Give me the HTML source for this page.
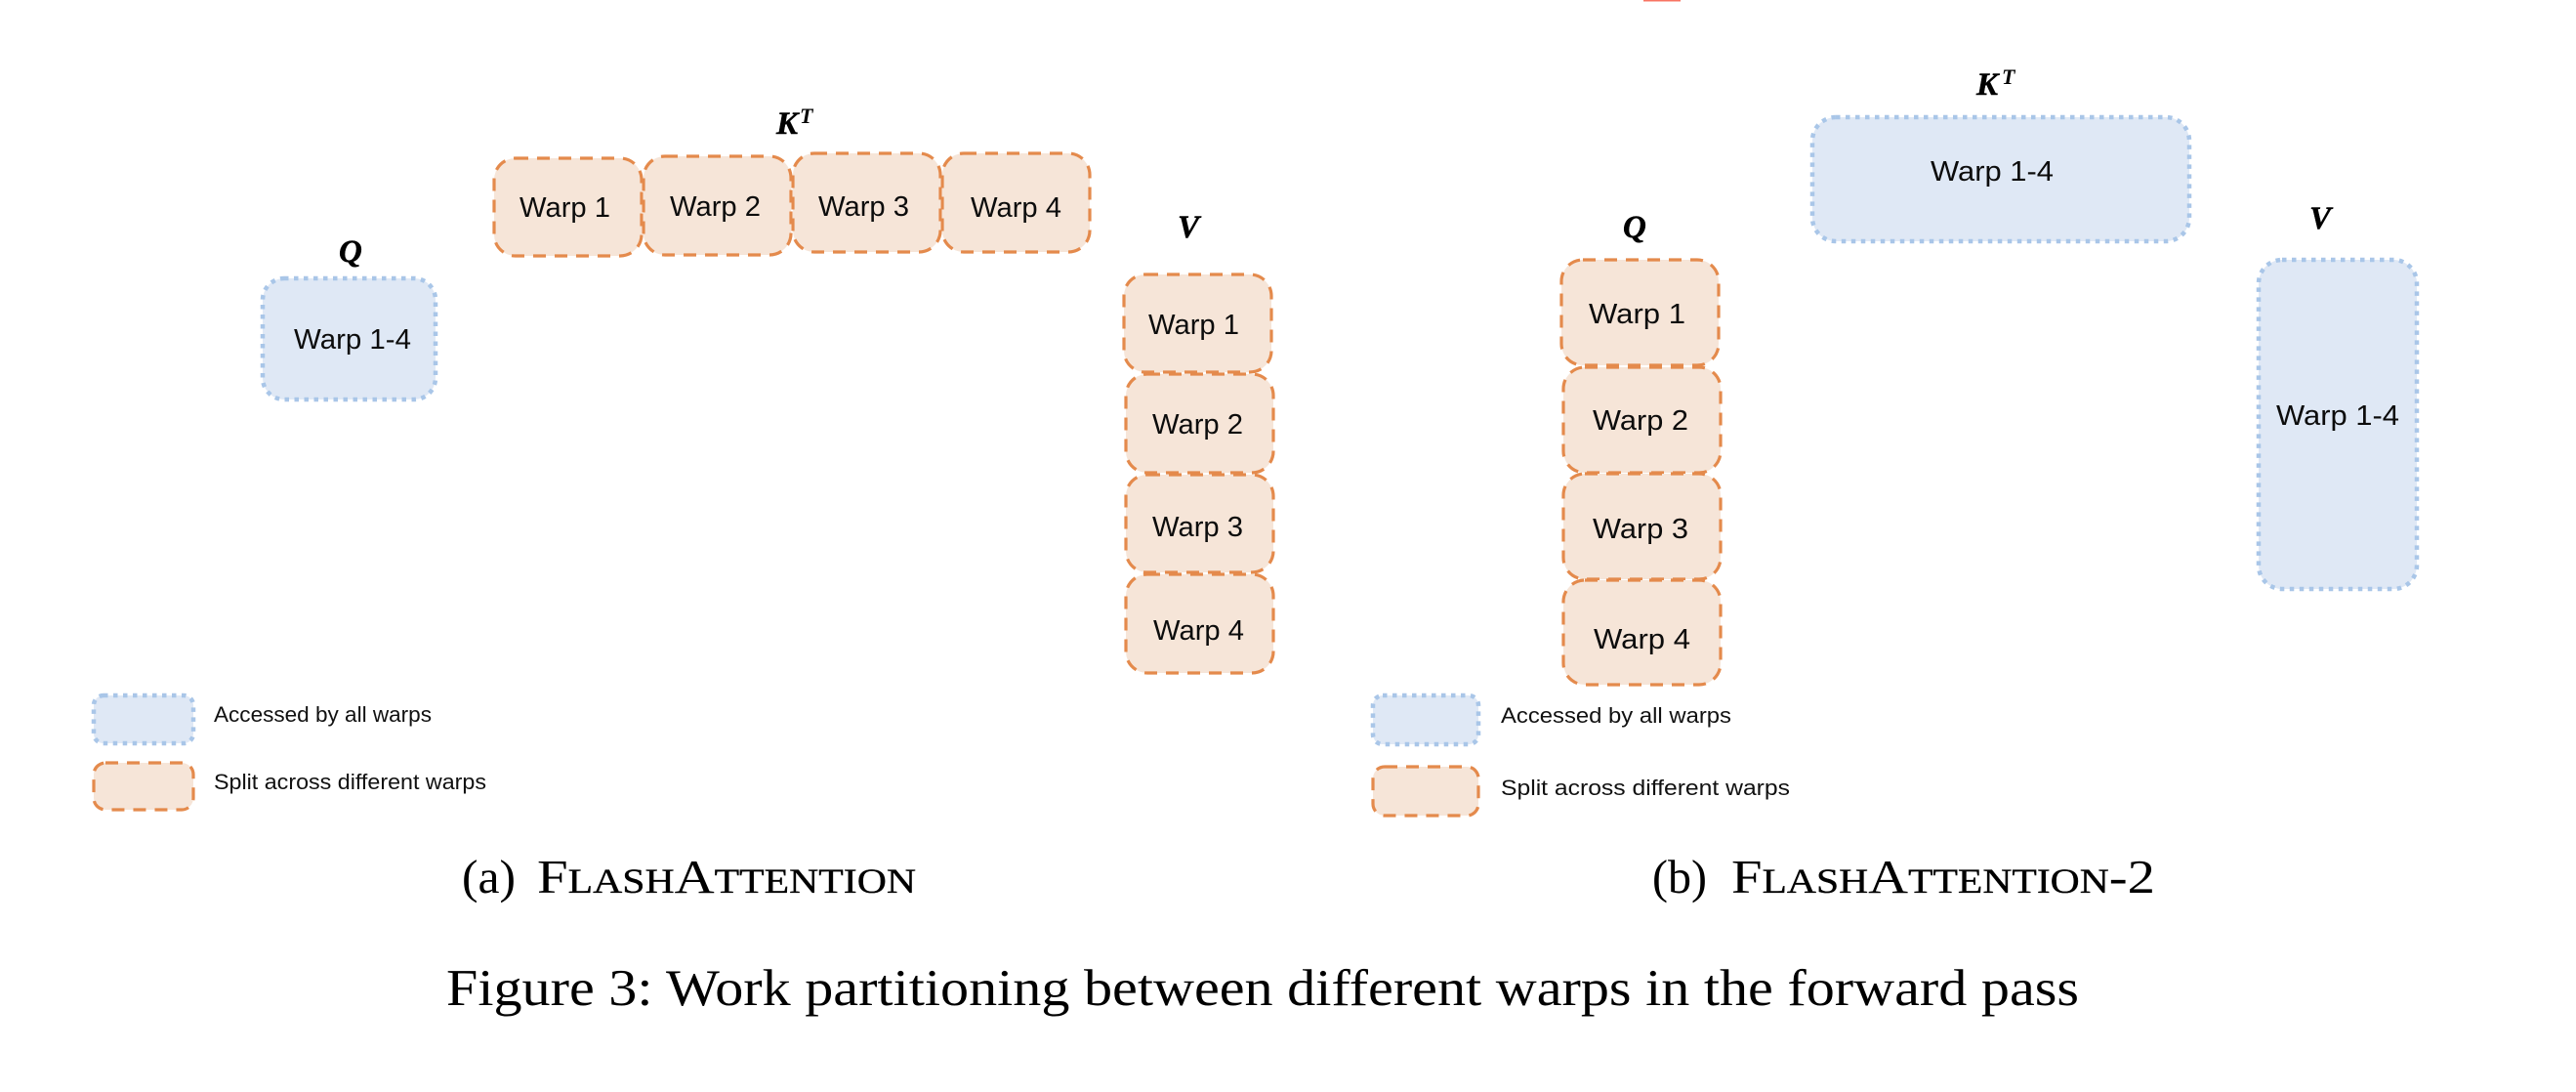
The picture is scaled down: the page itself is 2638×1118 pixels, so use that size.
<!DOCTYPE html>
<html>
<head>
<meta charset="utf-8">
<style>
html,body{margin:0;padding:0;background:#fff;}
svg{display:block;}
.o{fill:#f6e5d8;stroke:#e48a4c;stroke-width:3.2;stroke-dasharray:13 9;}
.b{fill:#dfe8f5;stroke:#a9c6e8;stroke-width:4.5;stroke-dasharray:4.5 5.5;}
.w{font-family:"Liberation Sans",sans-serif;font-size:28.5px;fill:#0c0c0c;}
.l{font-family:"Liberation Sans",sans-serif;font-size:22.5px;fill:#111;}
.m{font-family:"Liberation Serif",serif;font-style:italic;font-weight:bold;font-size:33px;fill:#000;stroke:#000;stroke-width:.5;}
.s{font-family:"Liberation Serif",serif;font-style:italic;font-weight:bold;font-size:22px;fill:#000;}
.c{font-family:"Liberation Serif",serif;font-size:49px;fill:#000;}
.c tspan.k{font-size:36px;stroke:#000;stroke-width:.35;}
.f{font-family:"Liberation Serif",serif;font-size:53px;fill:#000;}
</style>
</head>
<body>
<svg width="2638" height="1118" viewBox="0 0 2638 1118" xmlns="http://www.w3.org/2000/svg">
<rect width="2638" height="1118" fill="#ffffff"/>
<rect x="1683" y="0" width="38" height="1.5" fill="#f87463"/>

<!-- (a) Q -->
<rect class="b" x="269" y="285" width="177" height="124" rx="22"/>
<text class="w" x="301" y="357" textLength="120" lengthAdjust="spacingAndGlyphs">Warp 1-4</text>
<text class="m" x="347" y="268">Q</text>

<!-- (a) K^T -->
<rect class="o" x="506" y="162" width="151" height="100" rx="22"/>
<rect class="o" x="659" y="160" width="151" height="101" rx="22"/>
<rect class="o" x="812" y="157" width="151" height="101" rx="22"/>
<rect class="o" x="965" y="157" width="151" height="101" rx="22"/>
<text class="w" x="532" y="222" textLength="93" lengthAdjust="spacingAndGlyphs">Warp 1</text>
<text class="w" x="686" y="221" textLength="93" lengthAdjust="spacingAndGlyphs">Warp 2</text>
<text class="w" x="838" y="221" textLength="93" lengthAdjust="spacingAndGlyphs">Warp 3</text>
<text class="w" x="994" y="222" textLength="93" lengthAdjust="spacingAndGlyphs">Warp 4</text>
<text class="m" x="795" y="137">K</text>
<text class="s" x="819" y="126">T</text>

<!-- (a) V -->
<rect class="o" x="1151" y="281" width="151" height="100" rx="22"/>
<rect class="o" x="1153" y="383" width="151" height="101" rx="22"/>
<rect class="o" x="1153" y="486" width="151" height="100" rx="22"/>
<rect class="o" x="1153" y="588" width="151" height="101" rx="22"/>
<text class="w" x="1176" y="342" textLength="93" lengthAdjust="spacingAndGlyphs">Warp 1</text>
<text class="w" x="1180" y="444" textLength="93" lengthAdjust="spacingAndGlyphs">Warp 2</text>
<text class="w" x="1180" y="549" textLength="93" lengthAdjust="spacingAndGlyphs">Warp 3</text>
<text class="w" x="1181" y="655" textLength="93" lengthAdjust="spacingAndGlyphs">Warp 4</text>
<text class="m" x="1206" y="243">V</text>

<!-- (a) legend -->
<rect class="b" x="96" y="712" width="102" height="49" rx="10"/>
<rect class="o" x="96" y="781" width="102" height="48" rx="12"/>
<text class="l" x="219" y="739" textLength="223" lengthAdjust="spacingAndGlyphs">Accessed by all warps</text>
<text class="l" x="219" y="808" textLength="279" lengthAdjust="spacingAndGlyphs">Split across different warps</text>

<!-- (b) Q -->
<rect class="o" x="1599" y="266" width="161" height="108" rx="22"/>
<rect class="o" x="1601" y="376" width="161" height="108" rx="22"/>
<rect class="o" x="1601" y="485" width="161" height="108" rx="22"/>
<rect class="o" x="1601" y="594" width="161" height="107" rx="22"/>
<text class="w" x="1627" y="331" textLength="99" lengthAdjust="spacingAndGlyphs">Warp 1</text>
<text class="w" x="1631" y="440" textLength="98" lengthAdjust="spacingAndGlyphs">Warp 2</text>
<text class="w" x="1631" y="551" textLength="98" lengthAdjust="spacingAndGlyphs">Warp 3</text>
<text class="w" x="1632" y="664" textLength="99" lengthAdjust="spacingAndGlyphs">Warp 4</text>
<text class="m" x="1662" y="243">Q</text>

<!-- (b) K^T -->
<rect class="b" x="1856" y="120" width="386" height="127" rx="24"/>
<text class="w" x="1977" y="185" textLength="126" lengthAdjust="spacingAndGlyphs">Warp 1-4</text>
<text class="m" x="2024" y="97">K</text>
<text class="s" x="2050" y="86">T</text>

<!-- (b) V -->
<rect class="b" x="2313" y="266" width="162" height="337" rx="24"/>
<text class="w" x="2331" y="435" textLength="126" lengthAdjust="spacingAndGlyphs">Warp 1-4</text>
<text class="m" x="2365" y="234">V</text>

<!-- (b) legend -->
<rect class="b" x="1406" y="712" width="108" height="50" rx="10"/>
<rect class="o" x="1406" y="785" width="108" height="50" rx="12"/>
<text class="l" x="1537" y="740" textLength="236" lengthAdjust="spacingAndGlyphs">Accessed by all warps</text>
<text class="l" x="1537" y="814" textLength="296" lengthAdjust="spacingAndGlyphs">Split across different warps</text>

<!-- captions -->
<text class="c" x="473" y="914" textLength="55" lengthAdjust="spacingAndGlyphs">(a)</text>
<text class="c" x="550" y="914" textLength="388" lengthAdjust="spacingAndGlyphs">F<tspan class="k">LASH</tspan>A<tspan class="k">TTENTION</tspan></text>
<text class="c" x="1692" y="914" textLength="56" lengthAdjust="spacingAndGlyphs">(b)</text>
<text class="c" x="1773" y="914" textLength="434" lengthAdjust="spacingAndGlyphs">F<tspan class="k">LASH</tspan>A<tspan class="k">TTENTION</tspan>-2</text>
<text class="f" x="457" y="1029" textLength="1672" lengthAdjust="spacingAndGlyphs">Figure 3: Work partitioning between different warps in the forward pass</text>
</svg>
</body>
</html>
